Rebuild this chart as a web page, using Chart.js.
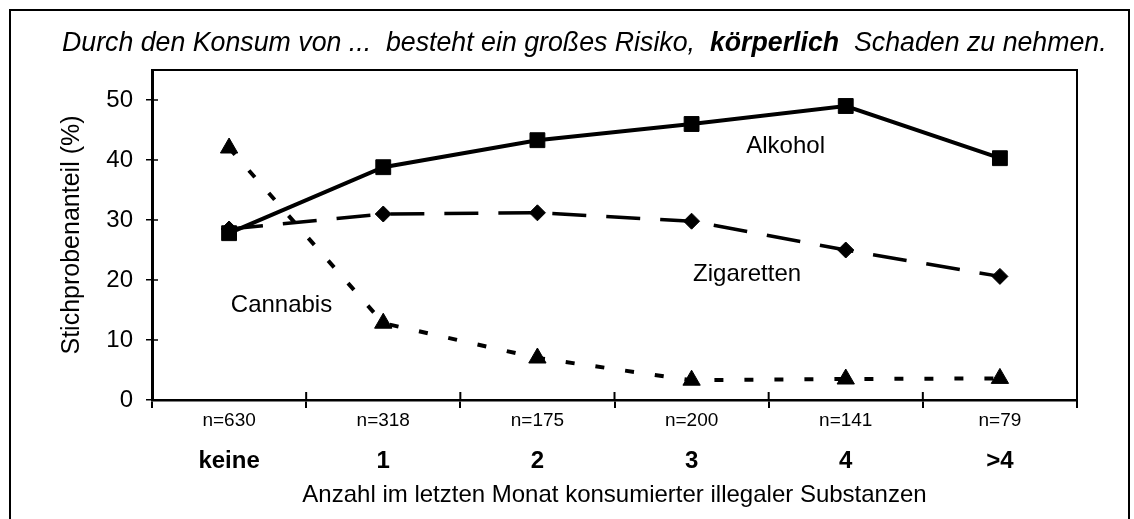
<!DOCTYPE html>
<html>
<head>
<meta charset="utf-8">
<script src="https://cdn.jsdelivr.net/npm/chart.js@4"></script>
<style>
  html, body { margin: 0; padding: 0; background: #fff; overflow: hidden; }
  #wrap { position: relative; width: 1134px; height: 519px; }
</style>
</head>
<body>
<div id="wrap"><canvas id="riskChart"></canvas></div>
<script>
        // Werte
        const categories = ['keine', '1', '2', '3', '4', '>4'];
        const sampleSizes = ['n=630', 'n=318', 'n=175', 'n=200', 'n=141', 'n=79'];
        const alkohol = [27.8, 38.8, 43.3, 46.0, 49.0, 40.3];
        const zigaretten = [28.5, 31.0, 31.2, 29.8, 25.0, 20.6];
        const cannabis = [42.0, 12.8, 7.0, 3.3, 3.5, 3.6];
        const yTicks = [0, 10, 20, 30, 40, 50];
        const yMax = 55;

        const titleParts = [
            { text: 'Durch den Konsum von ...  besteht ein großes Risiko,  ', bold: false },
            { text: 'körperlich', bold: true },
            { text: '  Schaden zu nehmen.', bold: false }
        ];
        // Beschriftungen der Linien (Kategorie-Index, Wert)
        const seriesLabels = [
            { text: 'Alkohol', at: 3.61, value: 42.3 },
            { text: 'Zigaretten', at: 3.36, value: 21 },
            { text: 'Cannabis', at: 0.34, value: 15.7 }
        ];

        const FONT = "'Liberation Sans', Arial, sans-serif";

        const decorations = {
            id: 'decorations',
            afterDraw(chart) {
                const ctx = chart.ctx;
                const area = chart.chartArea;
                const x = chart.scales.x;
                const y = chart.scales.y;
                ctx.save();
                ctx.strokeStyle = '#000';
                ctx.fillStyle = '#000';

                // outer frame
                ctx.lineWidth = 2;
                ctx.beginPath();
                ctx.moveTo(10, 525);
                ctx.lineTo(10, 10);
                ctx.lineTo(1129, 10);
                ctx.lineTo(1129, 525);
                ctx.stroke();

                // plot box top + right
                ctx.lineWidth = 2;
                ctx.beginPath();
                ctx.moveTo(area.left, area.top);
                ctx.lineTo(area.right, area.top);
                ctx.lineTo(area.right, area.bottom + 8);
                ctx.stroke();

                // tick marks reaching into the plot
                ctx.lineWidth = 1.5;
                yTicks.forEach(v => {
                    const py = y.getPixelForValue(v);
                    ctx.beginPath();
                    ctx.moveTo(area.left, py);
                    ctx.lineTo(area.left + 6, py);
                    ctx.stroke();
                });
                ctx.lineWidth = 2;
                for (let i = 1; i < categories.length; i++) {
                    const px = x.getPixelForValue(i - 0.5);
                    ctx.beginPath();
                    ctx.moveTo(px, area.bottom);
                    ctx.lineTo(px, area.bottom - 8);
                    ctx.stroke();
                }

                // title with bold word
                let size = 25;
                const widthAt = s => titleParts.reduce((w, p) => {
                    ctx.font = 'italic ' + (p.bold ? 'bold ' : '') + s + 'px ' + FONT;
                    return w + ctx.measureText(p.text).width;
                }, 0);
                size = size * 1045 / widthAt(size);
                let tx = 62;
                ctx.textBaseline = 'alphabetic';
                ctx.textAlign = 'left';
                titleParts.forEach(p => {
                    ctx.font = 'italic ' + (p.bold ? 'bold ' : '') + size + 'px ' + FONT;
                    ctx.fillText(p.text, tx, 51);
                    tx += ctx.measureText(p.text).width;
                });

                // series names
                ctx.font = '24px ' + FONT;
                ctx.textAlign = 'center';
                ctx.textBaseline = 'middle';
                seriesLabels.forEach(l => {
                    ctx.fillText(l.text, x.getPixelForValue(l.at), y.getPixelForValue(l.value));
                });
                ctx.restore();
            }
        };

        const ctx = document.getElementById('riskChart').getContext('2d');
        const riskChart = new Chart(ctx, {
            type: 'line',
            data: {
                labels: sampleSizes,
                datasets: [
                    {
                        label: 'Alkohol',
                        data: alkohol,
                        borderColor: '#000',
                        backgroundColor: '#000',
                        borderWidth: 4,
                        pointStyle: 'rect',
                        pointRadius: 10.5,
                        pointBorderWidth: 1
                    },
                    {
                        label: 'Zigaretten',
                        data: zigaretten,
                        borderColor: '#000',
                        backgroundColor: '#000',
                        borderWidth: 3.5,
                        borderDash: [34, 20],
                        pointStyle: 'rectRot',
                        pointRadius: 8,
                        pointBorderWidth: 1
                    },
                    {
                        label: 'Cannabis',
                        data: cannabis,
                        borderColor: '#000',
                        backgroundColor: '#000',
                        borderWidth: 4,
                        borderDash: [9, 21],
                        pointStyle: 'triangle',
                        pointRadius: 10,
                        pointBorderWidth: 1
                    }
                ]
            },
            options: {
                responsive: true,
                maintainAspectRatio: false,
                animation: false,
                layout: {
                    padding: { left: 53, right: 57, top: 70, bottom: 0 }
                },
                plugins: {
                    legend: { display: false },
                    tooltip: { enabled: false }
                },
                scales: {
                    y: {
                        min: 0,
                        max: yMax,
                        afterBuildTicks: scale => {
                            scale.ticks = yTicks.map(v => ({ value: v }));
                        },
                        afterFit: scale => { scale.width = 99; },
                        border: { color: '#000', width: 3 },
                        grid: { drawOnChartArea: false, tickLength: 6, color: '#000', lineWidth: 1.5 },
                        ticks: {
                            color: '#000',
                            padding: 13,
                            font: { family: FONT, size: 24 }
                        },
                        title: {
                            display: true,
                            text: 'Stichprobenanteil (%)',
                            color: '#000',
                            padding: { top: 4, bottom: 0 },
                            font: { family: FONT, size: 25 }
                        }
                    },
                    x: {
                        offset: true,
                        afterFit: scale => { scale.height = 32; },
                        border: { color: '#000', width: 2.5 },
                        grid: { offset: true, drawOnChartArea: false, tickLength: 8, color: '#000', lineWidth: 2 },
                        ticks: {
                            color: '#000',
                            padding: 1,
                            font: { family: FONT, size: 19 }
                        }
                    },
                    x2: {
                        type: 'category',
                        labels: categories,
                        position: 'bottom',
                        offset: true,
                        afterFit: scale => { scale.height = 87; },
                        border: { display: false },
                        grid: { display: false },
                        ticks: {
                            color: '#000',
                            padding: 7,
                            font: { family: FONT, size: 24, weight: 'bold' }
                        },
                        title: {
                            display: true,
                            text: 'Anzahl im letzten Monat konsumierter illegaler Substanzen',
                            color: '#000',
                            padding: { top: 0, bottom: 9 },
                            font: { family: FONT, size: 24 }
                        }
                    }
                }
            },
            plugins: [decorations]
        });
</script>
</body>
</html>
